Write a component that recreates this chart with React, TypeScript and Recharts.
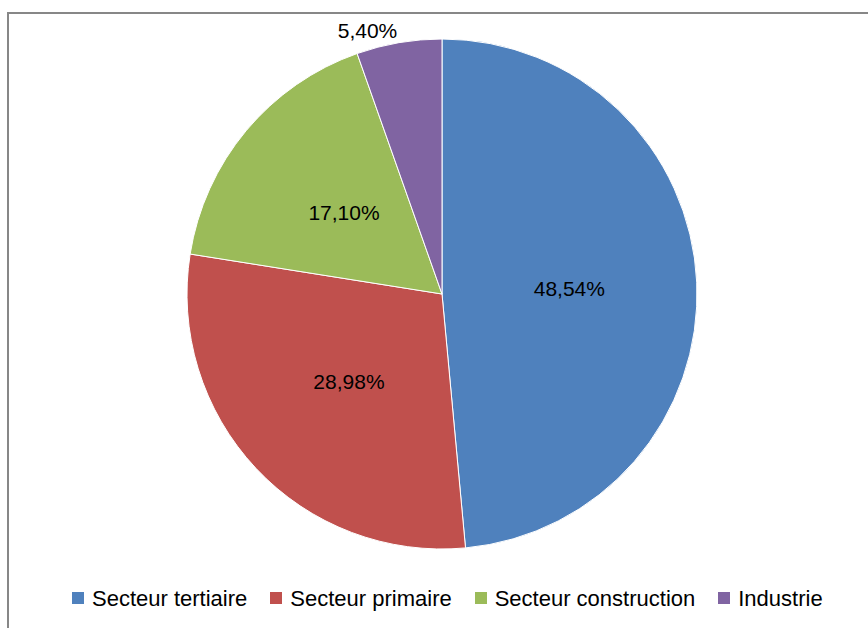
import * as React from 'react';
import { PieChart, Pie, Cell, Legend } from 'recharts';

// parts of the economy, in %
const sectors = ['Secteur tertiaire', 'Secteur primaire', 'Secteur construction', 'Industrie'];
const shares = [48.54, 28.98, 17.1, 5.4];
const labels = ['48,54%', '28,98%', '17,10%', '5,40%'];
const COLORS = ['#4F81BD', '#C0504D', '#9BBB59', '#8064A2'];

const FONT = '"Liberation Sans", Arial, sans-serif';
const RAD = Math.PI / 180;

const data = sectors.map((name, i) => ({ name, value: shares[i], label: labels[i] }));

const renderLabel = (props: any) => {
  const { cx, cy, midAngle, outerRadius, index, percent } = props;
  const small = percent < 0.1;
  const r = small ? outerRadius + 10 : outerRadius * 0.5;
  const x = cx + r * Math.cos(-midAngle * RAD);
  const y = cy + r * Math.sin(-midAngle * RAD);
  return (
    <text
      x={x}
      y={small ? y - 2 : y}
      fill="#000"
      fontFamily={FONT}
      fontSize={21}
      textAnchor={small ? 'end' : 'middle'}
      dominantBaseline="central"
    >
      {data[index].label}
    </text>
  );
};

const renderLegend = () => (
  <div style={{ display: 'flex', alignItems: 'center', paddingLeft: 72, height: 24 }}>
    {data.map((d, i) => (
      <div key={d.name} style={{ display: 'flex', alignItems: 'center', marginRight: 23 }}>
        <span style={{ display: 'inline-block', width: 12, height: 12, background: COLORS[i], marginRight: 8, marginTop: -3 }} />
        <span style={{ fontFamily: FONT, fontSize: 22, color: '#000', whiteSpace: 'nowrap' }}>{d.name}</span>
      </div>
    ))}
  </div>
);

export default function App() {
  return (
    <div style={{ position: 'absolute', left: 0, top: 0, width: 868, height: 628, overflow: 'hidden', background: '#fff' }}>
      <div style={{ position: 'absolute', left: 7, top: 12, width: 900, height: 700, border: '2px solid #878787' }} />
      <div style={{ position: 'absolute', left: 0, top: 0 }}>
        <PieChart width={868} height={628} margin={{ top: 0, right: 0, bottom: 0, left: 0 }}>
          <Pie
            data={data}
            dataKey="value"
            nameKey="name"
            cx={442}
            cy={294}
            outerRadius={255}
            startAngle={90}
            endAngle={-270}
            stroke="#ffffff"
            strokeWidth={1}
            label={renderLabel}
            labelLine={false}
            isAnimationActive={false}
          >
            {data.map((entry, index) => (
              <Cell key={`cell-${index}`} fill={COLORS[index]} />
            ))}
          </Pie>
          <Legend content={renderLegend} wrapperStyle={{ position: 'absolute', left: 0, top: 587, width: 868 }} />
        </PieChart>
      </div>
    </div>
  );
}
